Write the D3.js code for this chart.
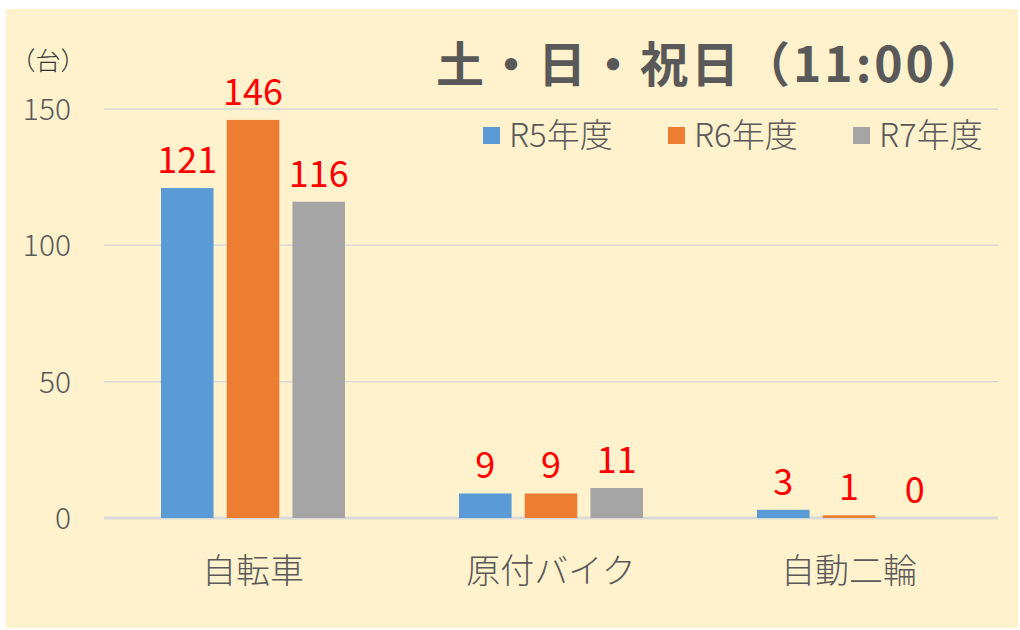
<!DOCTYPE html>
<html>
<head>
<meta charset="utf-8">
<script src="https://cdn.jsdelivr.net/npm/d3@7"></script>
<style>
  body { margin: 0; background: #fff; }
  text { font-family: "Noto Sans CJK JP", "Noto Sans", sans-serif; }
</style>
</head>
<body>
<div id="chart"></div>
<script>
// data
let categories = ["自転車", "原付バイク", "自動二輪"];
let seriesNames = ["R5年度", "R6年度", "R7年度"];
let r5 = [121, 9, 3];
let r6 = [146, 9, 1];
let r7 = [116, 11, 0];
let yTicks = [0, 50, 100, 150];
let colors = ["#5B9BD5", "#ED7D31", "#A5A5A5"];

let series = [r5, r6, r7];

let width = 1020, height = 630;

let svg = d3.select("#chart")
  .append("svg")
  .attr("width", width).attr("height", height);

// chart background
svg.append("rect")
  .attr("x", 6).attr("y", 9)
  .attr("width", 1012).attr("height", 619)
  .attr("fill", "#FFF2CC");

// scales
let xScale = d3.scaleBand()
  .domain(categories)
  .range([104, 998]);
let inner = d3.scaleBand()
  .domain(d3.range(seriesNames.length))
  .range([57, xScale.bandwidth() - 57])
  .paddingInner(0.2);
let yScale = d3.scaleLinear()
  .domain([0, 150])
  .range([518, 109]);

// gridlines
svg.append("g")
  .selectAll("line")
  .data(yTicks)
  .enter()
  .append("line")
  .attr("x1", 104).attr("x2", 998)
  .attr("y1", d => yScale(d)).attr("y2", d => yScale(d))
  .attr("stroke", "#D9D9D9")
  .attr("stroke-width", d => d === 0 ? 3 : 1.5);

// y tick labels
svg.append("g")
  .selectAll("text")
  .data(yTicks)
  .enter()
  .append("text")
  .attr("x", 71)
  .attr("y", d => yScale(d) + 11)
  .attr("text-anchor", "end")
  .attr("font-size", 30)
  .attr("font-weight", 300)
  .attr("fill", "#595959")
  .text(d => d);

// unit label
svg.append("text")
  .attr("x", 48).attr("y", 70)
  .attr("text-anchor", "middle")
  .attr("font-size", 25)
  .attr("font-weight", 300)
  .attr("fill", "#333")
  .text("（台）");

// bars
let groups = svg.append("g")
  .selectAll("g")
  .data(series)
  .enter()
  .append("g")
  .attr("fill", (d, i) => colors[i]);

groups.each(function(vals, si) {
  let g = d3.select(this);
  g.selectAll("rect")
    .data(vals)
    .enter()
    .append("rect")
    .attr("x", (d, ci) => xScale(categories[ci]) + inner(si))
    .attr("y", d => yScale(d))
    .attr("width", inner.bandwidth())
    .attr("height", d => yScale(0) - yScale(d));

  g.selectAll("text")
    .data(vals)
    .enter()
    .append("text")
    .attr("x", (d, ci) => xScale(categories[ci]) + inner(si) + inner.bandwidth() / 2)
    .attr("y", d => yScale(d) - 15)
    .attr("text-anchor", "middle")
    .attr("font-size", 36)
    .attr("fill", "#FF0000")
    .text(d => d);
});

// category labels
svg.append("g")
  .selectAll("text")
  .data(categories)
  .enter()
  .append("text")
  .attr("x", d => xScale(d) + xScale.bandwidth() / 2)
  .attr("y", 583)
  .attr("text-anchor", "middle")
  .attr("font-size", 34)
  .attr("font-weight", 300)
  .attr("fill", "#595959")
  .text(d => d);

// title
svg.append("text")
  .attr("x", 712).attr("y", 82)
  .attr("text-anchor", "middle")
  .attr("font-size", 48)
  .attr("font-weight", "bold")
  .attr("letter-spacing", 3)
  .attr("fill", "#595959")
  .text("土・日・祝日（11:00）");

// legend
let legendX = [483, 668, 853];
let legend = svg.append("g")
  .selectAll("g")
  .data(seriesNames)
  .enter()
  .append("g")
  .attr("transform", (d, i) => `translate(${legendX[i]}, 127)`);
legend.append("rect")
  .attr("width", 17).attr("height", 17)
  .attr("fill", (d, i) => colors[i]);
legend.append("text")
  .attr("x", 26).attr("y", 20)
  .attr("font-size", 33)
  .attr("font-weight", 300)
  .attr("fill", "#595959")
  .text(d => d);
</script>
</body>
</html>
